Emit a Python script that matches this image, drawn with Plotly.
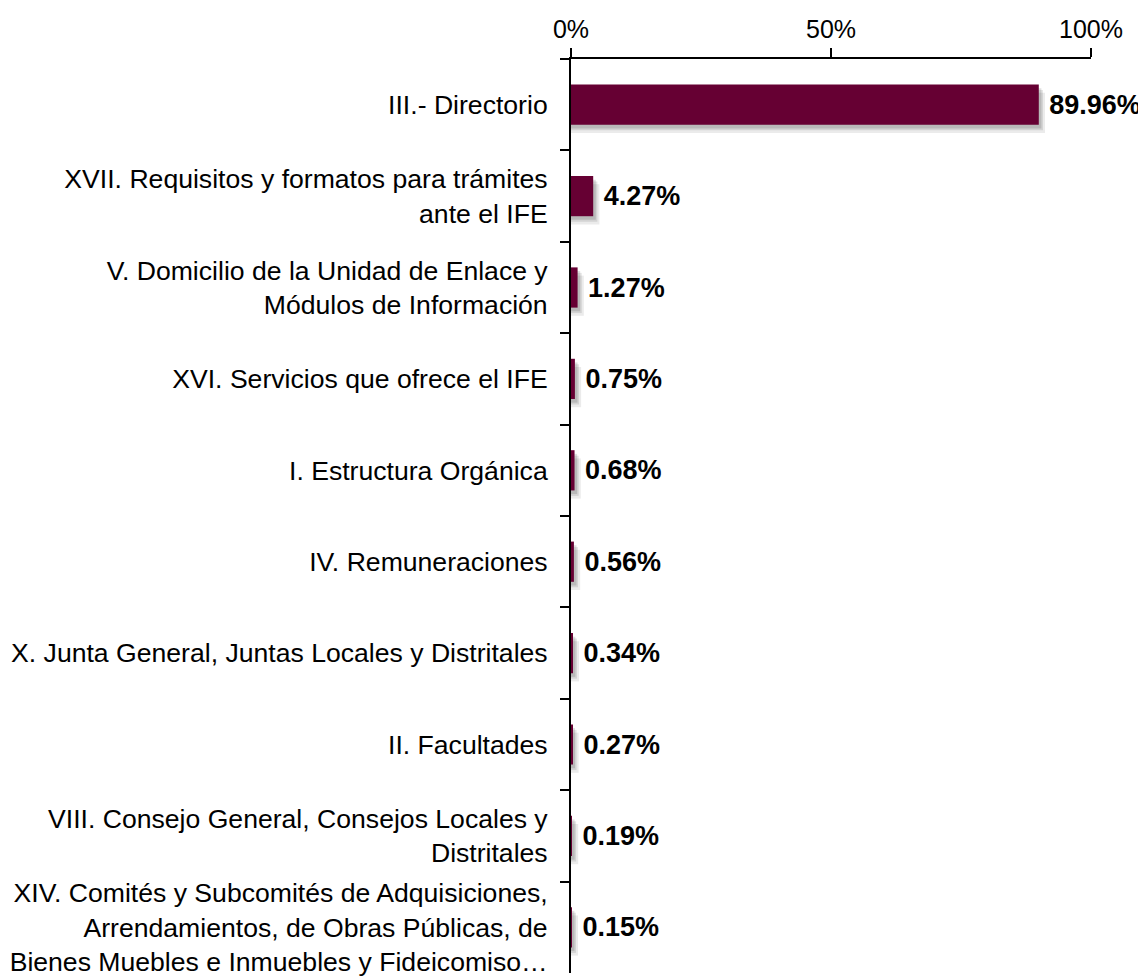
import plotly.graph_objects as go

categories = [
    "III.- Directorio",
    "XVII. Requisitos y formatos para trámites<br>ante el IFE",
    "V. Domicilio de la Unidad de Enlace y<br>Módulos de Información",
    "XVI. Servicios que ofrece el IFE",
    "I. Estructura Orgánica",
    "IV. Remuneraciones",
    "X. Junta General, Juntas Locales y Distritales",
    "II. Facultades",
    "VIII. Consejo General, Consejos Locales y<br>Distritales",
    "XIV. Comités y Subcomités de Adquisiciones,<br>Arrendamientos, de Obras Públicas, de<br>Bienes Muebles e Inmuebles y Fideicomiso…",
]
values = [89.96, 4.27, 1.27, 0.75, 0.68, 0.56, 0.34, 0.27, 0.19, 0.15]
x_ticks = [0, 50, 100]
x_tick_labels = ["0%", "50%", "100%"]

BAR = "#660033"
FONT = "Liberation Sans, Arial, sans-serif"

fig = go.Figure()

# soft drop shadow layers
for dx, dy, a in [(1.2, 0.09, 0.08), (0.8, 0.06, 0.10), (0.5, 0.04, 0.12)]:
    fig.add_trace(go.Bar(
        y=categories, x=[v + dx for v in values], orientation="h",
        marker=dict(color=f"rgba(0,0,0,{a})", line=dict(width=0)),
        width=0.44, offset=-0.22 + dy,
        hoverinfo="skip", showlegend=False,
    ))

fig.add_trace(go.Bar(
    y=categories, x=values, orientation="h",
    marker=dict(color=BAR, line=dict(width=0)),
    width=0.44, offset=-0.22,
    text=[f" {v:.2f}%" for v in values],
    textposition="outside",
    textfont=dict(family=FONT, size=27, color="black", weight="bold"),
    cliponaxis=False, showlegend=False,
))

fig.update_layout(
    width=1146, height=977,
    margin=dict(l=563, r=63, t=51, b=12),
    paper_bgcolor="white", plot_bgcolor="white",
    barmode="overlay",
    font=dict(family=FONT, size=26, color="black"),
    uniformtext=dict(mode=False),
)
fig.update_xaxes(
    side="top", range=[0, 100], tickvals=x_ticks, ticktext=x_tick_labels,
    showgrid=False, zeroline=False, automargin=False,
    showline=True, linecolor="black", linewidth=2,
    ticks="outside", ticklen=9, tickwidth=2, tickcolor="black",
    tickfont=dict(family=FONT, size=25, color="black"),
)
fig.update_yaxes(
    autorange="reversed", type="category", automargin=False,
    showgrid=False, zeroline=False,
    showline=True, linecolor="black", linewidth=2,
    ticks="outside", tickson="boundaries", ticklen=9, tickwidth=2, tickcolor="black",
    tickfont=dict(family=FONT, size=26.6, color="black"),
    ticklabelstandoff=16,
)

fig.write_html("out.html")
